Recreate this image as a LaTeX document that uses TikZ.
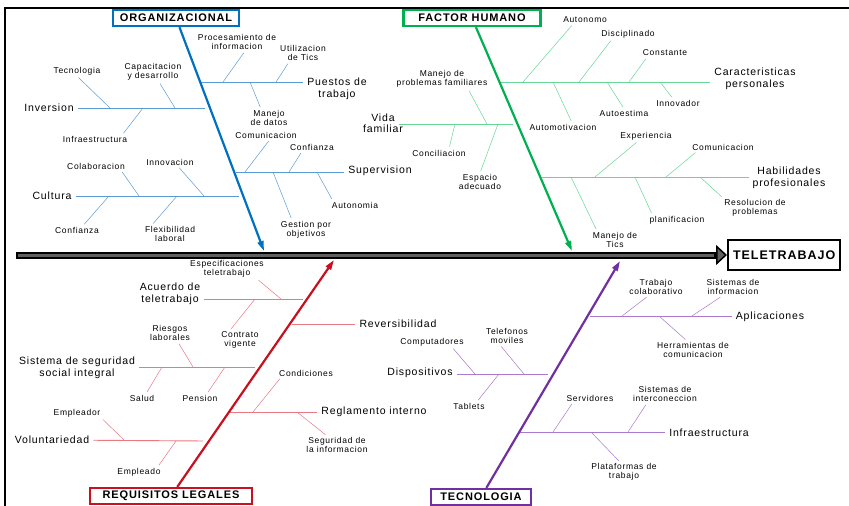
\documentclass[tikz,border=0pt]{standalone}
\usepackage{fontspec}
\setmainfont{Liberation Sans}[LetterSpace=8]
\usepackage{tikz}
\definecolor{colorg}{RGB}{0,112,192}
\definecolor{colorglt}{RGB}{91,155,213}
\definecolor{colhum}{RGB}{0,176,80}
\definecolor{colhumlt}{RGB}{102,214,150}
\definecolor{colleg}{RGB}{200,16,30}
\definecolor{colleglt}{RGB}{232,120,130}
\definecolor{coltec}{RGB}{112,48,160}
\definecolor{coltechlt}{RGB}{170,120,205}
\definecolor{colspine}{RGB}{95,95,95}
\usetikzlibrary{
	arrows.meta
}
\tikzset{
	lbl/.style={font=\fontsize{8.5}{9.5}\selectfont, align=center, inner sep=1pt},
	biglbl/.style={font=\fontsize{10.5}{11.5}\selectfont, align=center, inner sep=1pt},
	catbox/.style={draw=#1, line width=2.2pt, fill=white, font=\bfseries\fontsize{11}{12}\selectfont, minimum height=16pt, inner sep=1pt},
	catline/.style={draw=#1, line width=2.2pt, -{Triangle[length=10pt,width=6pt]}},
	branch/.style={draw=#1, line width=0.9pt, shorten <=3pt, shorten >=3pt},
	twig/.style={draw=#1, line width=0.5pt, shorten <=2pt},
	spine/.style={line width=7pt, -{Triangle[length=11pt,width=20pt,fill=colspine,line width=1.5pt]}}
}
\begin{document}
\begin{tikzpicture}[x=1pt, y=-1pt]
	\useasboundingbox (0,0) rectangle (849,506);
	\draw[line width=2pt] (5,506) |- (849,8);

	\coordinate (sp) at (16,255);
	\node[draw, line width=2pt, fill=white, anchor=west, minimum height=30pt, inner xsep=5pt, font=\bfseries\fontsize{12.5}{13}\selectfont] (tele) at (727,255) {TELETRABAJO};
	\draw[spine] (sp) -- (tele.west);
	\draw[line width=3pt, colspine] ([xshift=2pt]sp) -- ([xshift=-13pt]tele.west);

	\node[catbox=colorg, minimum width=126pt] (org) at (176,18) {ORGANIZACIONAL};
	\coordinate (org-tip) at (264,251);
	\node[catbox=colhum, minimum width=137pt] (hum) at (472,18) {FACTOR HUMANO};
	\coordinate (hum-tip) at (572,251);
	\node[catbox=colleg, minimum width=162pt] (leg) at (171,496) {REQUISITOS LEGALES};
	\coordinate (leg-tip) at (334,260);
	\node[catbox=coltec, minimum width=100pt] (tech) at (481,497) {TECNOLOGIA};
	\coordinate (tech-tip) at (620,261);

	\node[biglbl] (inv) at (49,108) {Inversion};
	\node[biglbl] (cul) at (52,196) {Cultura};
	\node[biglbl] (pue) at (337,89) {Puestos de\\trabajo};
	\node[biglbl] (sup) at (380,171) {Supervision};
	\coordinate (inv-m) at (208,108);
	\coordinate (cul-m) at (242,196);
	\coordinate (pue-m) at (198,82);
	\coordinate (sup-m) at (233,172);
	\draw[branch=colorglt] (inv) -- (inv-m);
	\draw[branch=colorglt] (cul) -- (cul-m);
	\draw[branch=colorglt] (pue-m) -- (pue-m -| pue.west);
	\draw[branch=colorglt] (sup-m) -- (sup-m -| sup.west);

	\node[lbl] (tcn) at (77,71) {Tecnologia};
	\node[lbl] (cap) at (153,72) {Capacitacion\\y desarrollo};
	\node[lbl] (inf) at (95,139) {Infraestructura};
	\node[lbl] (col) at (96,166) {Colaboracion};
	\node[lbl] (inn) at (170,162) {Innovacion};
	\node[lbl] (con) at (77,230) {Confianza};
	\node[lbl] (flx) at (170,234) {Flexibilidad\\laboral};
	\node[lbl] (pro) at (237,42) {Procesamiento de\\informacion};
	\node[lbl] (uti) at (303,53) {Utilizacion\\de Tics};
	\node[lbl] (man) at (269,118) {Manejo\\de datos};
	\node[lbl] (com) at (266,135) {Comunicacion};
	\node[lbl] (cnf) at (312,147) {Confianza};
	\node[lbl] (aut) at (355,205) {Autonomia};
	\node[lbl] (ges) at (306,230) {Gestion por\\objetivos};
	\coordinate (inv-a) at (110,108);
	\coordinate (inv-b) at (143,108);
	\coordinate (inv-c) at (175,108);
	\coordinate (cul-a) at (109,196);
	\coordinate (cul-b) at (139,196);
	\coordinate (cul-c) at (177,196);
	\coordinate (cul-d) at (204,196);
	\coordinate (pue-a) at (223,82);
	\coordinate (pue-b) at (250,82);
	\coordinate (pue-c) at (276,82);
	\coordinate (sup-a) at (245,172);
	\coordinate (sup-b) at (273,172);
	\coordinate (sup-c) at (289,172);
	\coordinate (sup-d) at (317,172);
	\path[twig=colorglt]
		(tcn.south) edge (inv-a)
		([xshift=6pt]cap.south) edge (inv-c)
		([xshift=-6pt]inf.north east) edge (inv-b)
		([xshift=-5pt]col.south east) edge (cul-b)
		([xshift=8pt]inn.south) edge (cul-d)
		([xshift=6pt]con.north) edge (cul-a)
		([xshift=-18pt]flx.north) edge (cul-c)
		([xshift=8pt]pro.south) edge (pue-a)
		([xshift=-14pt]uti.south) edge (pue-c)
		([xshift=-8pt]man.north) edge (pue-b)
		([xshift=4pt]com.south) edge (sup-a)
		([xshift=-10pt]cnf.south) edge (sup-c)
		([xshift=2pt]aut.north west) edge (sup-d)
		([xshift=-14pt]ges.north) edge (sup-b)
	;

	\node[biglbl] (cpe) at (755,79) {Caracteristicas\\personales};
	\node[biglbl] (vfa) at (383,123) {Vida\\familiar};
	\node[biglbl] (hpr) at (789,178) {Habilidades\\profesionales};
	\coordinate (cpe-m) at (498,82);
	\coordinate (vfa-m) at (516,124);
	\coordinate (hpr-m) at (539,177);
	\draw[branch=colhumlt] (cpe-m) -- (cpe-m -| cpe.west);
	\draw[branch=colhumlt] ([xshift=-8pt]vfa.east |- vfa-m) -- (vfa-m);
	\draw[branch=colhumlt] (hpr-m) -- (hpr-m -| hpr.west);

	\node[lbl] (ato) at (585,20) {Autonomo};
	\node[lbl] (dis) at (628,34) {Disciplinado};
	\node[lbl] (cst) at (665,53) {Constante};
	\node[lbl] (ino) at (678,103) {Innovador};
	\node[lbl] (aes) at (624,113) {Autoestima};
	\node[lbl] (amt) at (563,127) {Automotivacion};
	\node[lbl] (mpf) at (442,79) {Manejo de\\problemas familiares};
	\node[lbl] (cci) at (439,153) {Conciliacion};
	\node[lbl] (eade) at (480,182) {Espacio\\adecuado};
	\node[lbl] (expe) at (646,136) {Experiencia};
	\node[lbl] (cmu) at (723,147) {Comunicacion};
	\node[lbl] (pla) at (677,220) {planificacion};
	\node[lbl] (res) at (755,208) {Resolucion de\\problemas};
	\node[lbl] (mtc) at (615,240) {Manejo de\\Tics};
	\coordinate (cpe-a) at (523,82);
	\coordinate (cpe-b) at (553,82);
	\coordinate (cpe-c) at (579,82);
	\coordinate (cpe-d) at (607,82);
	\coordinate (cpe-e) at (629,82);
	\coordinate (cpe-f) at (660,82);
	\coordinate (vfa-a) at (455,124);
	\coordinate (vfa-b) at (487,124);
	\coordinate (vfa-c) at (498,124);
	\coordinate (hpr-a) at (571,177);
	\coordinate (hpr-b) at (595,177);
	\coordinate (hpr-c) at (635,177);
	\coordinate (hpr-d) at (666,177);
	\coordinate (hpr-e) at (700,177);
	\path[twig=colhumlt]
		([xshift=-12pt]ato.south) edge (cpe-a)
		([xshift=-16pt]dis.south) edge (cpe-c)
		([xshift=-18pt]cst.south) edge (cpe-e)
		([xshift=-5pt]ino.north) edge (cpe-f)
		(aes.north) edge (cpe-d)
		([xshift=9pt]amt.north) edge (cpe-b)
		([xshift=26pt]mpf.south) edge (vfa-b)
		([xshift=10pt]cci.north) edge (vfa-a)
		(eade.north) edge (vfa-c)
		([xshift=-8pt]expe.south) edge (hpr-b)
		([xshift=-26pt]cmu.south) edge (hpr-d)
		([xshift=4pt]pla.north west) edge (hpr-c)
		(res.north west) edge (hpr-e)
		([xshift=-18pt]mtc.north) edge (hpr-a)
	;

	\node[biglbl] (acu) at (170,294) {Acuerdo de\\teletrabajo};
	\node[biglbl] (rev) at (398,324) {Reversibilidad};
	\node[biglbl] (ssi) at (77,368) {Sistema de seguridad\\social integral};
	\node[biglbl] (vol) at (52,440) {Voluntariedad};
	\node[biglbl] (reg) at (374,412) {Reglamento interno};
	\coordinate (acu-m) at (306,299);
	\coordinate (rev-m) at (289,324);
	\coordinate (ssi-m) at (258,367);
	\coordinate (vol-m) at (206,441);
	\coordinate (reg-m) at (226,412);
	\draw[branch=colleglt] (acu.east |- acu-m) -- (acu-m);
	\draw[branch=colleglt] (rev-m) -- (rev.west);
	\draw[branch=colleglt] (ssi.east |- ssi-m) -- (ssi-m);
	\draw[branch=colleglt] (vol) -- (vol-m);
	\draw[branch=colleglt] (reg-m) -- (reg.west);

	\node[lbl] (spe) at (227,269) {Especificaciones\\teletrabajo};
	\node[lbl] (ctr) at (240,340) {Contrato\\vigente};
	\node[lbl] (rie) at (170,333) {Riesgos\\laborales};
	\node[lbl] (sal) at (142,398) {Salud};
	\node[lbl] (pen) at (200,398) {Pension};
	\node[lbl] (emp) at (77,413) {Empleador};
	\node[lbl] (epd) at (139,472) {Empleado};
	\node[lbl] (cnd) at (306,373) {Condiciones};
	\node[lbl] (seg) at (337,445) {Seguridad de\\la informacion};
	\coordinate (acu-a) at (255,299);
	\coordinate (acu-b) at (281,299);
	\coordinate (ssi-a) at (162,367);
	\coordinate (ssi-b) at (193,367);
	\coordinate (ssi-c) at (225,367);
	\coordinate (vol-a) at (125,441);
	\coordinate (vol-b) at (176,441);
	\coordinate (reg-a) at (253,412);
	\coordinate (reg-b) at (297,412);
	\path[twig=colleglt]
		([xshift=30pt]spe.south) edge (acu-b)
		([xshift=-10pt]ctr.north) edge (acu-a)
		([xshift=8pt]rie.south) edge (ssi-b)
		([xshift=4pt]sal.north) edge (ssi-a)
		([xshift=7pt]pen.north) edge (ssi-c)
		(emp.south east) edge (vol-a)
		([xshift=-4pt]epd.north east) edge (vol-b)
		([xshift=-25pt]cnd.south) edge (reg-a)
		([xshift=-10pt]seg.north) edge (reg-b)
	;

	\node[biglbl] (apl) at (770,317) {Aplicaciones};
	\node[biglbl] (dsp) at (420,373) {Dispositivos};
	\node[biglbl] (ifr) at (709,433) {Infraestructura};
	\coordinate (apl-m) at (587,316);
	\coordinate (dsp-m) at (551,374);
	\coordinate (ifr-m) at (516,432);
	\draw[branch=coltechlt] (apl-m) -- (apl-m -| apl.west);
	\draw[branch=coltechlt] (dsp.east |- dsp-m) -- (dsp-m);
	\draw[branch=coltechlt] (ifr-m) -- (ifr-m -| ifr.west);

	\node[lbl] (tco) at (656,287) {Trabajo\\colaborativo};
	\node[lbl] (sin) at (733,287) {Sistemas de\\informacion};
	\node[lbl] (her) at (693,350) {Herramientas de\\comunicacion};
	\node[lbl] (cmp) at (432,342) {Computadores};
	\node[lbl] (tel) at (507,336) {Telefonos\\moviles};
	\node[lbl] (tab) at (469,406) {Tablets};
	\node[lbl] (srv) at (590,398) {Servidores};
	\node[lbl] (sic) at (665,394) {Sistemas de\\interconeccion};
	\node[lbl] (plt) at (624,472) {Plataformas de\\trabajo};
	\coordinate (apl-a) at (622,316);
	\coordinate (apl-b) at (659,316);
	\coordinate (apl-c) at (692,316);
	\coordinate (dsp-a) at (475,374);
	\coordinate (dsp-b) at (499,374);
	\coordinate (dsp-c) at (524,374);
	\coordinate (ifr-a) at (553,432);
	\coordinate (ifr-b) at (591,432);
	\coordinate (ifr-c) at (628,432);
	\path[twig=coltechlt]
		([xshift=-8pt]tco.south) edge (apl-a)
		([xshift=-11pt]sin.south) edge (apl-c)
		([xshift=-6pt]her.north) edge (apl-b)
		([xshift=20pt]cmp.south) edge (dsp-a)
		([xshift=-7pt]tel.south) edge (dsp-c)
		([xshift=8pt]tab.north) edge (dsp-b)
		([xshift=-17pt]srv.south) edge (ifr-a)
		([xshift=-18pt]sic.south) edge (ifr-c)
		([xshift=-4pt]plt.north) edge (ifr-b)
	;

	\draw[catline=colorg] (org) -- (org-tip);
	\draw[catline=colhum] (hum) -- (hum-tip);
	\draw[catline=colleg] (leg) -- (leg-tip);
	\draw[catline=coltec] (tech) -- (tech-tip);
\end{tikzpicture}
\end{document}
